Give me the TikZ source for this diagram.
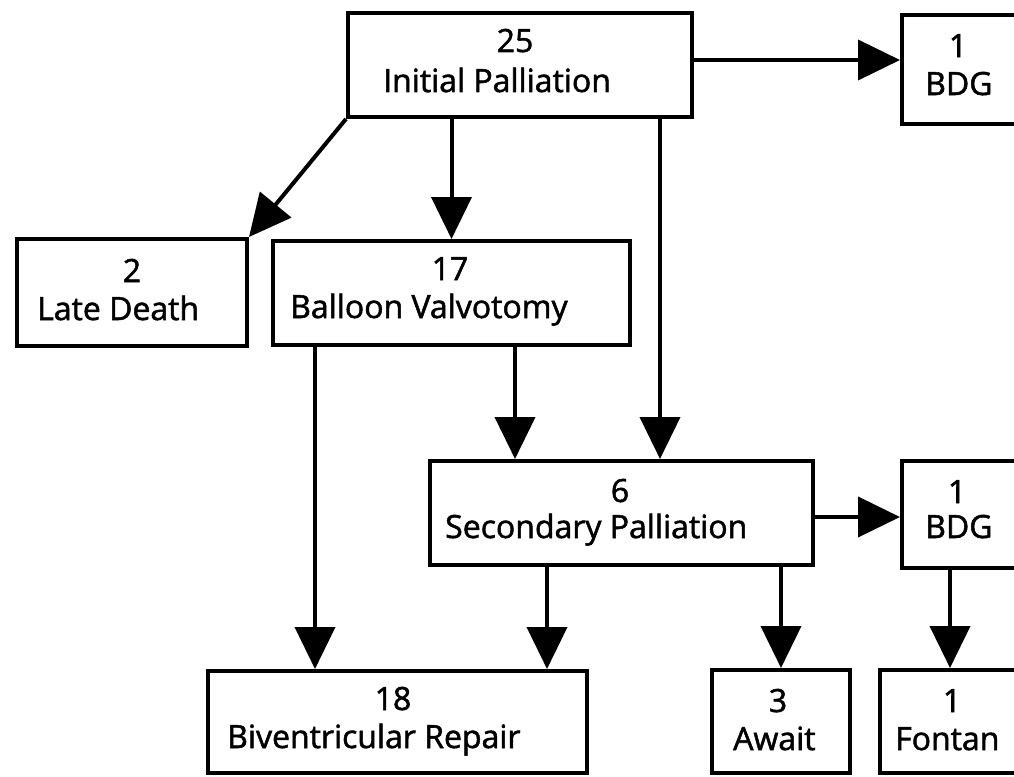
\documentclass[tikz,border=0pt]{standalone}
\usepackage{fontspec}
\setmainfont{Open Sans}[BoldFont={Open Sans}, BoldFeatures={FakeBold=1.6}]
\usetikzlibrary{arrows.meta}

\begin{document}
\begin{tikzpicture}[x=1pt, y=-1pt,
  every node/.style={font=\fontsize{32}{36}\selectfont\bfseries},
  stage/.style={draw, line width=4pt, inner sep=0pt},
  cnt/.style={anchor=base, inner sep=0pt},
  lab/.style={anchor=base west, inner sep=0pt},
  flow/.style={-{Triangle[length=42pt, width=40pt]}, line width=4pt}]

\clip (0,0) rectangle (1014,776);

% boxes
\node[stage, minimum width=344pt, minimum height=104pt] (init) at (520,65) {};
\node[stage, minimum width=118pt, minimum height=109pt] (bdgA) at (961,69.5) {};
\node[stage, minimum width=230pt, minimum height=107pt] (late) at (132,292.5) {};
\node[stage, minimum width=357pt, minimum height=104pt] (ball) at (451.5,293) {};
\node[stage, minimum width=383pt, minimum height=104pt] (sec) at (621.5,513) {};
\node[stage, minimum width=118pt, minimum height=107pt] (bdgB) at (961,514.5) {};
\node[stage, minimum width=379pt, minimum height=102pt] (biv) at (397.5,722) {};
\node[stage, minimum width=138pt, minimum height=103pt] (await) at (781,721.5) {};
\node[stage, minimum width=140pt, minimum height=103pt] (fontan) at (950,721.5) {};

% counts and names
\node[cnt] (initN) at (515,52) {25};
\node[lab] (initT) at (383,92) {Initial Palliation};
\node[cnt] (bdgAN) at (958,57) {1};
\node[lab] (bdgAT) at (925,95) {BDG};
\node[cnt] (lateN) at (132,282) {2};
\node[lab] (lateT) at (37,320) {Late Death};
\node[cnt] (ballN) at (450,280) {17};
\node[lab] (ballT) at (290,318) {Balloon Valvotomy};
\node[cnt] (secN) at (620,502) {6};
\node[lab] (secT) at (445,538) {Secondary Palliation};
\node[cnt] (bdgBN) at (957,503) {1};
\node[lab] (bdgBT) at (925,538) {BDG};
\node[cnt] (bivN) at (393,710) {18};
\node[lab] (bivT) at (227,748) {Biventricular Repair};
\node[cnt] (awaitN) at (778,712) {3};
\node[lab] (awaitT) at (733,750) {Await};
\node[cnt] (fontanN) at (952,712) {1};
\node[lab] (fontanT) at (895,750) {Fontan};

% arrows
\draw[flow] ([yshift=5pt]init.east) -- ([yshift=5pt]init.east -| bdgA.west);
\draw[flow] (init.south west) -- (late.north east);
\draw[flow] (ball.north |- init.south) -- (ball.north);
\draw[flow] ([xshift=140pt]init.south) -- ([xshift=140pt]init.south |- sec.north);
\draw[flow] ([xshift=63.5pt]ball.south) -- ([xshift=63.5pt]ball.south |- sec.north);
\draw[flow] ([xshift=-136.5pt]ball.south) -- ([xshift=-136.5pt]ball.south |- biv.north);
\draw[flow] ([xshift=-74.5pt]sec.south) -- ([xshift=-74.5pt]sec.south |- biv.north);
\draw[flow] (await.north |- sec.south) -- (await.north);
\draw[flow] ([yshift=-4pt]sec.east) -- ([yshift=-4pt]sec.east -| bdgB.west);
\draw[flow] (fontan.north |- bdgB.south) -- (fontan.north);
\end{tikzpicture}
\end{document}
